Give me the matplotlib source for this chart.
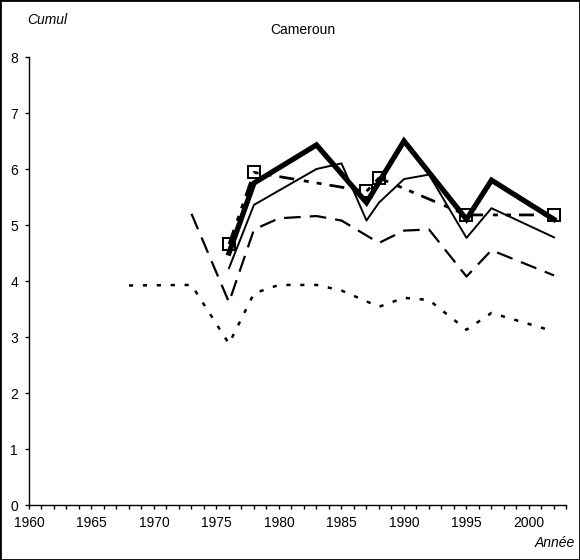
import matplotlib
matplotlib.use('Agg')
import matplotlib.pyplot as plt
from matplotlib.patches import Rectangle

plt.rcParams['font.family'] = ['Liberation Sans', 'DejaVu Sans']
plt.rcParams['lines.scale_dashes'] = False

# series
years_thick = [1976, 1978, 1983, 1987, 1990, 1995, 1997, 2002]
vals_thick = [4.5, 5.75, 6.43, 5.4, 6.5, 5.1, 5.8, 5.1]

years_thin = [1976, 1978, 1983, 1985, 1987, 1988, 1990, 1992, 1995, 1997, 2002]
vals_thin = [4.23, 5.36, 6.0, 6.1, 5.08, 5.4, 5.82, 5.9, 4.77, 5.3, 4.78]

years_dash = [1973, 1976, 1978, 1980, 1983, 1985, 1988, 1990, 1992, 1995, 1997, 2002]
vals_dash = [5.2, 3.62, 4.92, 5.12, 5.16, 5.08, 4.68, 4.9, 4.92, 4.08, 4.55, 4.1]

years_dot = [1968, 1973, 1976, 1978, 1980, 1983, 1985, 1988, 1990, 1992, 1995, 1997, 2002]
vals_dot = [3.92, 3.93, 2.88, 3.78, 3.93, 3.93, 3.83, 3.54, 3.7, 3.66, 3.13, 3.43, 3.1]

years_sq = [1976, 1978, 1987, 1988, 1995, 2002]
vals_sq = [4.66, 5.94, 5.6, 5.84, 5.18, 5.18]

xticks = [1960, 1965, 1970, 1975, 1980, 1985, 1990, 1995, 2000]
yticks = [0, 1, 2, 3, 4, 5, 6, 7, 8]


def main():
      fig = plt.figure(figsize=(5.8, 5.6), dpi=100)
      ax = fig.add_axes([0.05, 0.0982, 0.9267, 0.8])

      ax.plot(years_dot, vals_dot, color='k', linewidth=1.8,
              dashes=(3.0, 7.0), dash_capstyle='butt')
      ax.plot(years_dash, vals_dash, color='k', linewidth=1.6,
              dashes=(12.0, 6.5), dash_capstyle='butt')
      ax.plot(years_thin, vals_thin, color='k', linewidth=1.4)
      ax.plot(years_sq, vals_sq, color='k', linewidth=2.0,
              dashes=(10.8, 7.0, 3.6, 5.8, 3.6, 5.8), dash_capstyle='butt')
      ax.plot(years_thick, vals_thick, color='k', linewidth=3.8,
              solid_joinstyle='miter')
      ax.plot(years_sq, vals_sq, linestyle='none', marker='s', markersize=8,
              markerfacecolor='none', markeredgecolor='k', markeredgewidth=1.4)

      ax.set_xlim(1960, 2003)
      ax.set_ylim(0, 8)
      ax.set_xticks(xticks)
      ax.set_xticks(range(1960, 2004), minor=True)
      ax.set_yticks(yticks)
      ax.tick_params(axis='both', which='both', direction='out', length=3,
                     width=1, color='k', labelsize=10)
      ax.tick_params(axis='x', pad=5)
      ax.tick_params(axis='y', pad=5)
      ax.spines['top'].set_visible(False)
      ax.spines['right'].set_visible(False)
      ax.spines['left'].set_linewidth(1)
      ax.spines['bottom'].set_linewidth(1)

      fig.text(0.047, 0.964, 'Cumul', fontsize=10, style='italic',
               ha='left', va='center')
      fig.text(0.522, 0.946, 'Cameroun', fontsize=10, ha='center', va='center')
      fig.text(0.992, 0.03, 'Année', fontsize=10, style='italic',
               ha='right', va='center')

      fig.patches.append(Rectangle((0, 0), 1, 1, transform=fig.transFigure,
                                   fill=False, edgecolor='k', linewidth=2))

      fig.savefig('out.png', dpi=100)


if __name__ == "__main__":
      main()
